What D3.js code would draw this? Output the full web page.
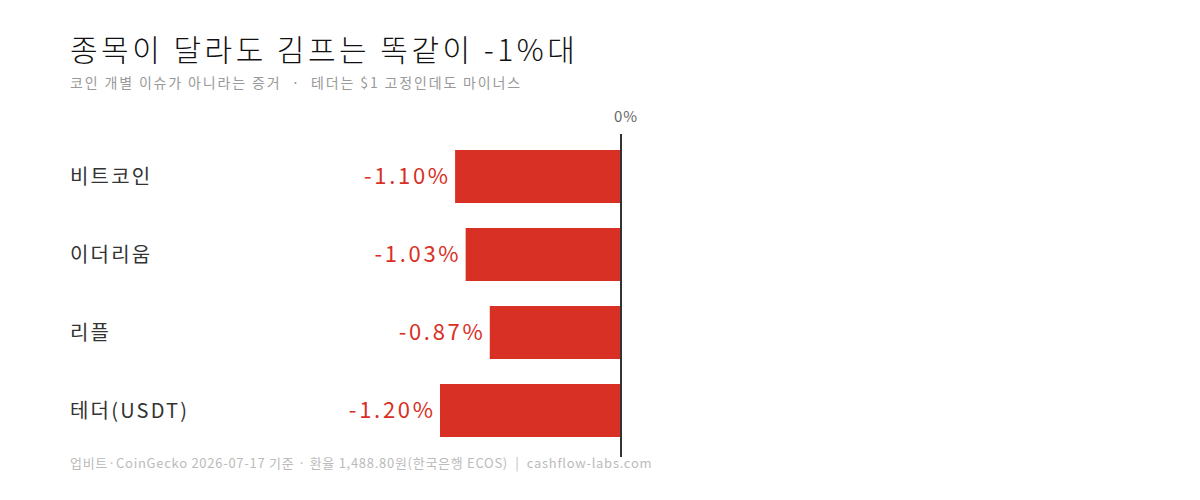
<!DOCTYPE html>
<html><head><meta charset="utf-8">
<script src="https://cdn.jsdelivr.net/npm/d3@7"></script>
<style>body{margin:0;background:#fff;} text{font-family:"Noto Sans CJK KR","Noto Sans",sans-serif;white-space:pre;}</style>
</head><body><svg id="c" width="1200" height="500"></svg>
<script>
const categories = ["비트코인", "이더리움", "리플", "테더(USDT)"];
const values = [-1.10, -1.03, -0.87, -1.20];
const valueLabels = ["-1.10%", "-1.03%", "-0.87%", "-1.20%"];
const zeroLabel = "0%";
const title = "종목이 달라도 김프는 똑같이 -1%대";
const subtitle = "코인 개별 이슈가 아니라는 증거  ·  테더는 $1 고정인데도 마이너스";
const footer = "업비트·CoinGecko 2026-07-17 기준 · 환율 1,488.80원(한국은행 ECOS)  |  cashflow-labs.com";

const svg = d3.select("#c");
const x = d3.scaleLinear().domain([-1.2, 0]).range([440, 621]);
const y = d3.scaleBand().domain(categories).range([137.5, 449.5]).paddingInner(25/78).paddingOuter(12.5/78);

svg.append("text").attr("x", 70).attr("y", 61).attr("font-size", 30).attr("letter-spacing", 3.5)
  .attr("font-weight", 300).attr("fill", "#111").text(title);
svg.append("text").attr("x", 70).attr("y", 88).attr("font-size", 14).attr("letter-spacing", 1.85)
  .attr("fill", "#999").text(subtitle);

svg.selectAll("rect.bar").data(values).join("rect").attr("class", "bar")
  .attr("x", d => x(d)).attr("width", d => x(0) - x(d))
  .attr("y", (d, i) => y(categories[i])).attr("height", y.bandwidth())
  .attr("fill", "#d93025");

svg.selectAll("text.cat").data(categories).join("text").attr("class", "cat")
  .attr("x", 70).attr("y", d => y(d) + y.bandwidth() / 2).attr("dy", "0.35em")
  .attr("font-size", 20).attr("letter-spacing", 2.2).attr("fill", "#333").text(d => d);

const vls = 2.7;
svg.selectAll("text.val").data(values).join("text").attr("class", "val")
  .attr("x", d => x(d) - 7 + vls).attr("y", (d, i) => y(categories[i]) + y.bandwidth() / 2).attr("dy", "0.35em")
  .attr("text-anchor", "end").attr("font-size", 22).attr("letter-spacing", vls)
  .attr("fill", "#d93025").text((d, i) => valueLabels[i]);

svg.append("line").attr("x1", x(0)).attr("x2", x(0)).attr("y1", 134).attr("y2", 457)
  .attr("stroke", "#333").attr("stroke-width", 2);
svg.append("text").attr("x", x(0) + 5).attr("y", 122).attr("text-anchor", "middle")
  .attr("font-size", 15).attr("letter-spacing", 1).attr("fill", "#666").text(zeroLabel);

svg.append("text").attr("x", 70).attr("y", 468).attr("font-size", 13).attr("letter-spacing", 0.72)
  .attr("fill", "#bbb").text(footer);
</script></body></html>
